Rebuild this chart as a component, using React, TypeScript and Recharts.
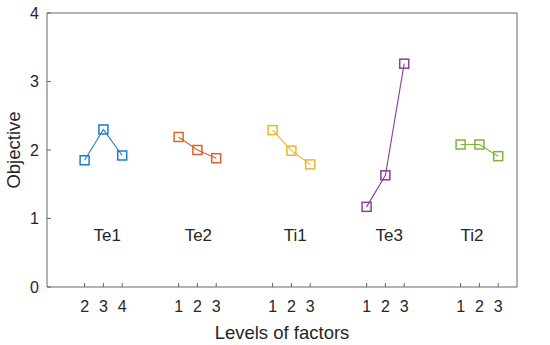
import { ComposedChart, Line, Scatter, XAxis, YAxis } from 'recharts'

const factors = ['Te1', 'Te2', 'Ti1', 'Te3', 'Ti2']
const levels = [
  [2, 3, 4],
  [1, 2, 3],
  [1, 2, 3],
  [1, 2, 3],
  [1, 2, 3],
]
const objective = [
  [1.85, 2.3, 1.92],
  [2.19, 2.0, 1.88],
  [2.29, 1.99, 1.79],
  [1.17, 1.63, 3.26],
  [2.08, 2.08, 1.91],
]
const colors = ['#1a7fcc', '#e0602a', '#f0b429', '#8b3d9a', '#7cb53a']
const labelX = [1.2, 6.05, 11.2, 16.2, 20.6]
const labelY = 0.75
const yTicks = [0, 1, 2, 3, 4]

const GROUP_STEP = 5
const series = levels.map((lv, g) =>
  lv.map((level, i) => ({ x: g * GROUP_STEP + i, level, y: objective[g][i] })),
)
const xTicks = series.flat().map((d) => d.x)
const levelByX: Record<number, number> = {}
series.flat().forEach((d) => (levelByX[d.x] = d.level))
const labels = factors.map((name, g) => ({ x: labelX[g], y: labelY, name }))

const AXIS = '#666'
const TEXT = '#262626'
const FONT = '"Liberation Sans", Arial, sans-serif'

const squareDot = (color: string) => (p: any) => {
  const s = 9
  return (
    <rect
      key={`${p.index}`}
      x={p.cx - s / 2}
      y={p.cy - s / 2}
      width={s}
      height={s}
      fill="none"
      stroke={color}
      strokeWidth={1.5}
    />
  )
}

const FactorLabel = (p: any) => (
  <text x={p.cx} y={p.cy} textAnchor="middle" dominantBaseline="central" fontSize={17} fill={TEXT}>
    {p.payload.name}
  </text>
)

export default function App() {
  return (
    <div style={{ position: 'absolute', left: 0, top: 0, fontFamily: FONT }}>
      <ComposedChart
        width={550}
        height={345}
        margin={{ top: 12, right: 32, bottom: 3, left: 7 }}
        style={{ fontFamily: FONT }}
      >
        <XAxis
          xAxisId="b"
          type="number"
          dataKey="x"
          domain={[-2, 23]}
          ticks={xTicks}
          tickFormatter={(v: number) => String(levelByX[v] ?? '')}
          interval={0}
          allowDataOverflow
          height={55}
          tickSize={-4}
          tickMargin={18}
          stroke={AXIS}
          tick={{ fill: TEXT, fontSize: 16 }}
          label={{
            content: ({ viewBox }: any) => (
              <text
                x={viewBox.x + viewBox.width / 2}
                y={332}
                textAnchor="middle"
                dominantBaseline="central"
                fontSize={18.5}
                fill={TEXT}
              >
                Levels of factors
              </text>
            ),
          }}
        />
        <XAxis
          xAxisId="t"
          orientation="top"
          type="number"
          dataKey="x"
          domain={[-2, 23]}
          ticks={xTicks}
          interval={0}
          allowDataOverflow
          height={1}
          tickSize={-4}
          tick={false}
          stroke={AXIS}
        />
        <YAxis
          yAxisId="l"
          type="number"
          domain={[0, 4]}
          ticks={yTicks}
          width={40}
          tickSize={-4}
          tickMargin={12}
          stroke={AXIS}
          tick={{ fill: TEXT, fontSize: 16 }}
          label={{
            content: ({ viewBox }: any) => (
              <text
                x={13}
                y={viewBox.y + viewBox.height / 2}
                transform={`rotate(-90 13 ${viewBox.y + viewBox.height / 2})`}
                textAnchor="middle"
                dominantBaseline="central"
                fontSize={18.5}
                fill={TEXT}
              >
                Objective
              </text>
            ),
          }}
        />
        <YAxis
          yAxisId="r"
          orientation="right"
          type="number"
          domain={[0, 4]}
          ticks={yTicks}
          width={1}
          tickSize={-4}
          tick={false}
          stroke={AXIS}
        />
        {series.map((data, g) => (
          <Line
            key={factors[g]}
            xAxisId="b"
            yAxisId="l"
            data={data}
            dataKey="y"
            stroke={colors[g]}
            strokeWidth={1.1}
            dot={squareDot(colors[g])}
            activeDot={false}
            isAnimationActive={false}
          />
        ))}
        <Scatter
          xAxisId="b"
          yAxisId="l"
          data={labels}
          dataKey="y"
          shape={FactorLabel}
          isAnimationActive={false}
        />
      </ComposedChart>
    </div>
  )
}
